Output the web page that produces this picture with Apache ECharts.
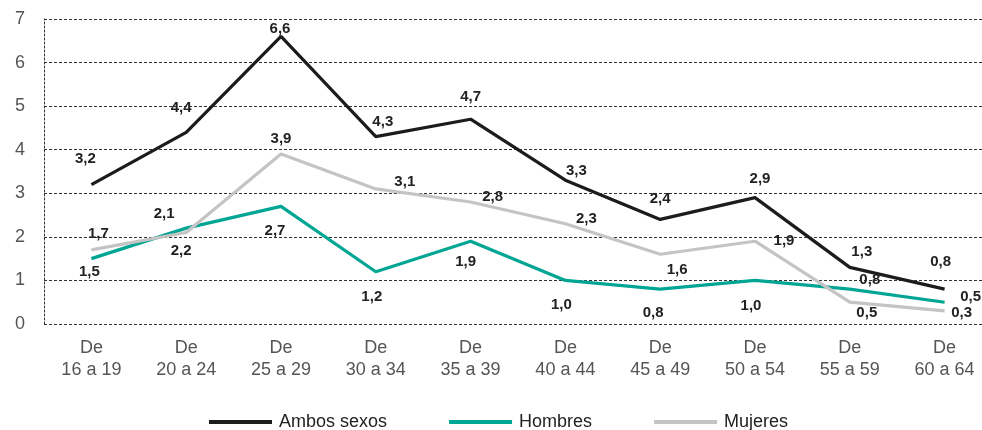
<!DOCTYPE html>
<html><head><meta charset="utf-8">
<script src="https://cdn.jsdelivr.net/npm/echarts@6/dist/echarts.min.js"></script>
<style>html,body{margin:0;padding:0;background:#fff}#c{width:982px;height:430px}</style>
</head><body><div id="c"></div>
<script>
const categories = ['De\n16 a 19','De\n20 a 24','De\n25 a 29','De\n30 a 34','De\n35 a 39','De\n40 a 44','De\n45 a 49','De\n50 a 54','De\n55 a 59','De\n60 a 64'];
const ambos   = [3.2, 4.4, 6.6, 4.3, 4.7, 3.3, 2.4, 2.9, 1.3, 0.8];
const hombres = [1.5, 2.2, 2.7, 1.2, 1.9, 1.0, 0.8, 1.0, 0.8, 0.5];
const mujeres = [1.7, 2.1, 3.9, 3.1, 2.8, 2.3, 1.6, 1.9, 0.5, 0.3];
const yTicks = [0,1,2,3,4,5,6,7];

// label offsets (position only, kept apart from data)
const offAmbos   = [[-6,-26],[-5,-24],[-1,-8],[7,-15],[0,-22],[11,-9],[0,-21],[5,-19],[12,-15],[-4,-27]];
const offHombres = [[-2,13],[-5,23],[-6,25],[-4,25],[-5,21],[-4,24],[-7,24],[-4,25],[20,-9],[26,-5]];
const offMujeres = [[7,-16],[-22,-19],[0,-15],[29,-7],[22,-5],[21,-5],[17,16],[29,0],[17,11],[17,2]];

const fmt = v => v.toFixed(1).replace('.', ',');
function series(name, vals, offs, color){
  return {
    name, type:'line', data: vals, symbol:'circle', symbolSize:0.01, showSymbol:true,
    lineStyle:{color, width:3.2}, itemStyle:{color},
    label:{show:true, position:'inside', color:'#222', fontFamily:'Liberation Sans, Arial, sans-serif',
      fontWeight:'bold', fontSize:15, formatter:p=>fmt(p.value)},
    labelLayout: p => ({dx: offs[p.dataIndex][0], dy: offs[p.dataIndex][1], hideOverlap:false}),
    emphasis:{disabled:true}, animation:false
  };
}
const chart = echarts.init(document.getElementById('c'), null, {renderer:'canvas'});
chart.setOption({
  animation:false,
  grid:{left:44, right:-10, top:19, bottom:106, containLabel:false, outerBoundsMode:'none'},
  legend:{
    left:209, top:413, padding:0, itemWidth:63, itemHeight:4, itemGap:62, icon:'rect',
    textStyle:{fontSize:18, color:'#222', fontFamily:'Liberation Sans, Arial, sans-serif', padding:[0,0,0,2]},
    data:['Ambos sexos','Hombres','Mujeres']
  },
  xAxis:{
    type:'category', data:categories, boundaryGap:true,
    axisLine:{show:false}, axisTick:{show:false},
    axisLabel:{margin:13, fontSize:18, lineHeight:22, color:'#555', fontFamily:'Liberation Sans, Arial, sans-serif'}
  },
  yAxis:{
    type:'value', min:yTicks[0], max:yTicks[yTicks.length-1], interval:1,
    axisLine:{show:true, lineStyle:{color:'#333', type:[2,2], width:1}},
    axisTick:{show:false},
    axisLabel:{margin:19, fontSize:18, color:'#555', fontFamily:'Liberation Sans, Arial, sans-serif'},
    splitLine:{show:true, lineStyle:{color:'#333', type:[3,2], width:1}}
  },
  series:[
    series('Ambos sexos', ambos, offAmbos, '#1c1c1c'),
    series('Hombres', hombres, offHombres, '#00a693'),
    series('Mujeres', mujeres, offMujeres, '#c4c4c4')
  ]
});
</script></body></html>
